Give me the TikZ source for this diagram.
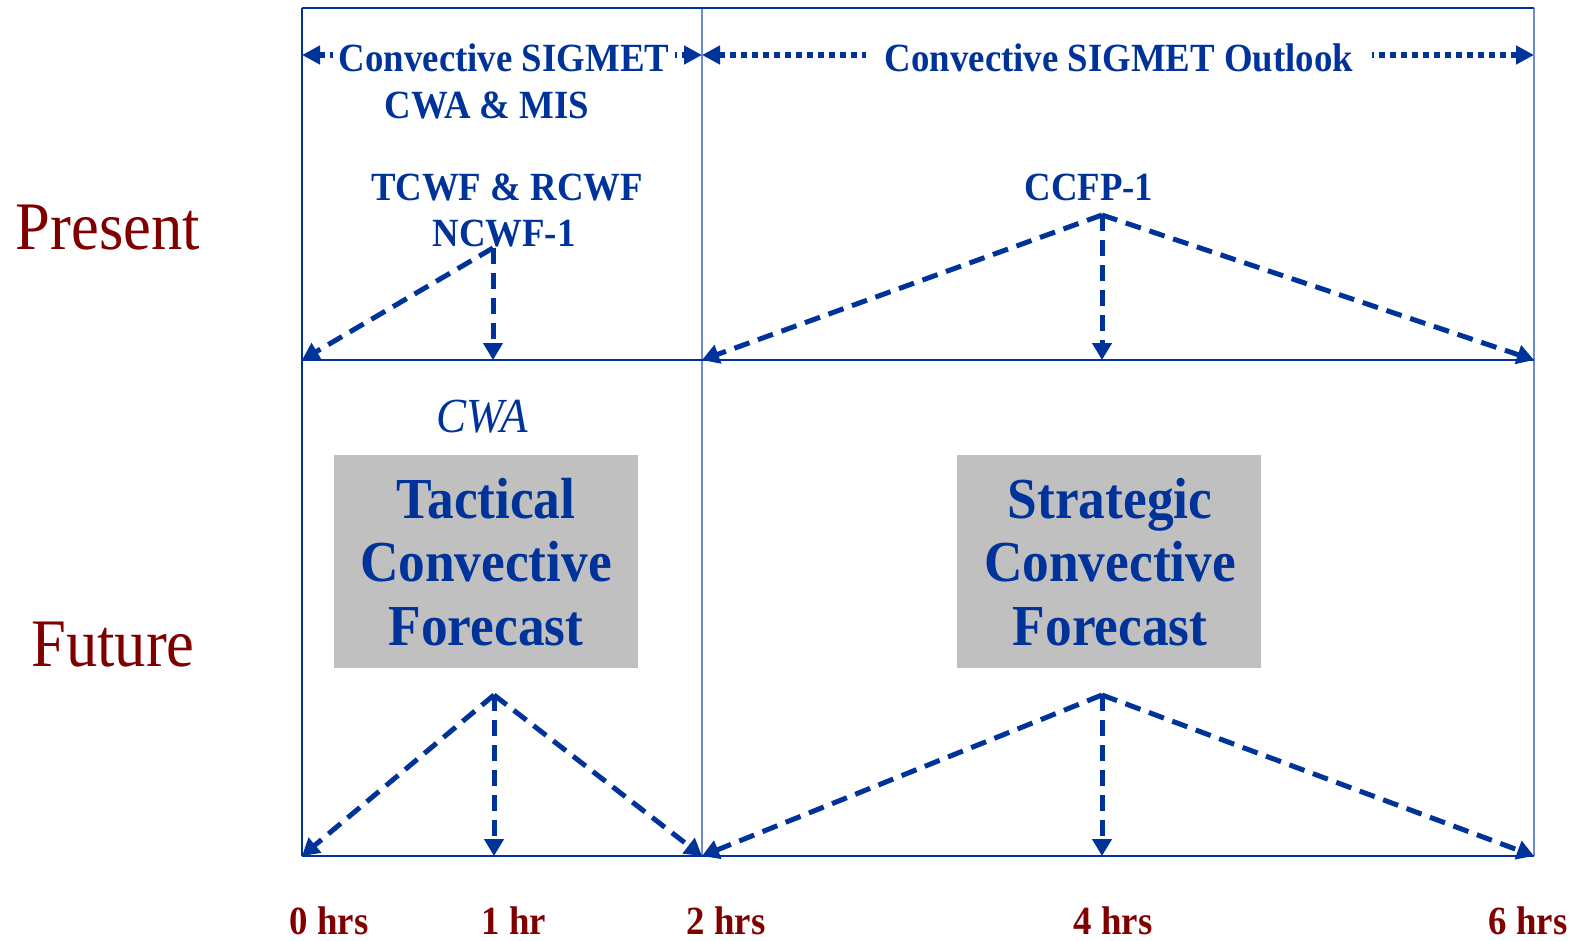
\documentclass[tikz,border=0pt]{standalone}
\usepackage{fontspec}
\setmainfont{Liberation Serif}[FakeStretch=0.92]
\usetikzlibrary{arrows.meta}
\definecolor{fblue}{RGB}{0,51,153}
\definecolor{lblue}{RGB}{110,140,205}
\definecolor{dred}{RGB}{128,0,0}
\definecolor{boxgray}{RGB}{192,192,192}
\begin{document}
\begin{tikzpicture}[x=1pt,y=-1pt,
  frameline/.style={draw=fblue,line width=2.5pt},
  thinline/.style={draw=lblue,line width=2pt},
  fc/.style={draw=fblue,line width=5pt,dash pattern=on 16pt off 9pt,-{Triangle[length=17pt,width=19pt]}},
  spanarrow/.style={draw=fblue,line width=5.5pt,dash pattern=on 6pt off 5pt,{Triangle[length=18pt,width=18pt]}-{Triangle[length=18pt,width=18pt]}},
  lab/.style={text=fblue,font=\bfseries\fontsize{40}{44}\selectfont,anchor=base,inner sep=0pt},
  spanlab/.style={lab,fill=white,inner xsep=7pt},
  boxtxt/.style={text=fblue,font=\bfseries\fontsize{58}{63}\selectfont,anchor=base,inner sep=0pt},
  graybox/.style={fill=boxgray,draw=none,inner sep=0pt},
  side/.style={text=dred,font=\fontsize{68}{72}\selectfont,anchor=base,inner sep=0pt},
  hrs/.style={text=dred,font=\bfseries\fontsize{40}{44}\selectfont,anchor=base,inner sep=0pt}
]
\useasboundingbox (0,0) rectangle (1577,940);

% grid points
\coordinate (tl) at (302,8);
\coordinate (tm) at (702,8);
\coordinate (tr) at (1534,8);
\coordinate (p0) at (302,360);
\coordinate (p1) at (493,360);
\coordinate (p2) at (702,360);
\coordinate (p4) at (1102,360);
\coordinate (p6) at (1534,360);
\coordinate (f0) at (302,856);
\coordinate (f1) at (494,856);
\coordinate (f2) at (702,856);
\coordinate (f4) at (1102,856);
\coordinate (f6) at (1534,856);
\coordinate (a1) at (493,248);
\coordinate (a2) at (1102,215);
\coordinate (b1) at (494,695);
\coordinate (b2) at (1102,695);
\coordinate (s0) at (302,55);
\coordinate (s2) at (702,55);
\coordinate (s6) at (1534,55);

% frame
\draw[thinline] (tm) -- (f2);
\draw[thinline] (tr) -- (f6);
\draw[frameline] (tl) -- (tr);
\draw[frameline] (tl) -- (f0);
\draw[frameline] (p0) -- (p6);
\draw[frameline] (f0) -- (f6);

% gray boxes
\node[graybox,minimum width=304pt,minimum height=213pt] (tacbox) at (486,561.5) {};
\node[graybox,minimum width=304pt,minimum height=213pt] (strbox) at (1109,561.5) {};

% top span arrows
\draw[spanarrow] (s0) -- (s2);
\draw[spanarrow] (s2) -- (s6);
\node[spanlab,inner xsep=6pt] (csig) at (504,71) {Convective SIGMET};
\node[spanlab,inner xsep=19pt] (csigo) at (1119,71) {Convective SIGMET Outlook};

% top texts
\node[lab] (cwamis) at (487,118) {CWA \& MIS};
\node[lab] (tcwf) at (507,200) {TCWF \& RCWF};
\node[lab] (ncwf) at (504,246) {NCWF-1};
\node[lab] (ccfp) at (1089,200) {CCFP-1};

% present arrows
\draw[fc] (a1) -- (p0);
\draw[fc] (a1) -- (p1);
\draw[fc] (a2) -- (p2);
\draw[fc] (a2) -- (p4);
\draw[fc] (a2) -- (p6);

% future arrows
\draw[fc] (b1) -- (f0);
\draw[fc] (b1) -- (f1);
\draw[fc] (b1) -- (f2);
\draw[fc] (b2) -- (f2);
\draw[fc] (b2) -- (f4);
\draw[fc] (b2) -- (f6);

% CWA italic
\node[text=fblue,font=\itshape\fontsize{49}{52}\selectfont,anchor=base,inner sep=0pt] (cwa) at (482,432) {CWA};

% box texts
\node[boxtxt] (t1) at (486,518) {Tactical};
\node[boxtxt] (t2) at (486,581) {Convective};
\node[boxtxt] (t3) at (486,645) {Forecast};
\node[boxtxt] (s1) at (1110,518) {Strategic};
\node[boxtxt] (s2t) at (1110,581) {Convective};
\node[boxtxt] (s3) at (1110,645) {Forecast};

% side labels
\node[side] (present) at (108,249) {Present};
\node[side] (future) at (113,666) {Future};

% hour labels
\node[hrs] (h0) at (329,934) {0 hrs};
\node[hrs] (h1) at (514,934) {1 hr};
\node[hrs] (h2) at (726,934) {2 hrs};
\node[hrs] (h4) at (1113,934) {4 hrs};
\node[hrs] (h6) at (1528,934) {6 hrs};
\end{tikzpicture}
\end{document}
